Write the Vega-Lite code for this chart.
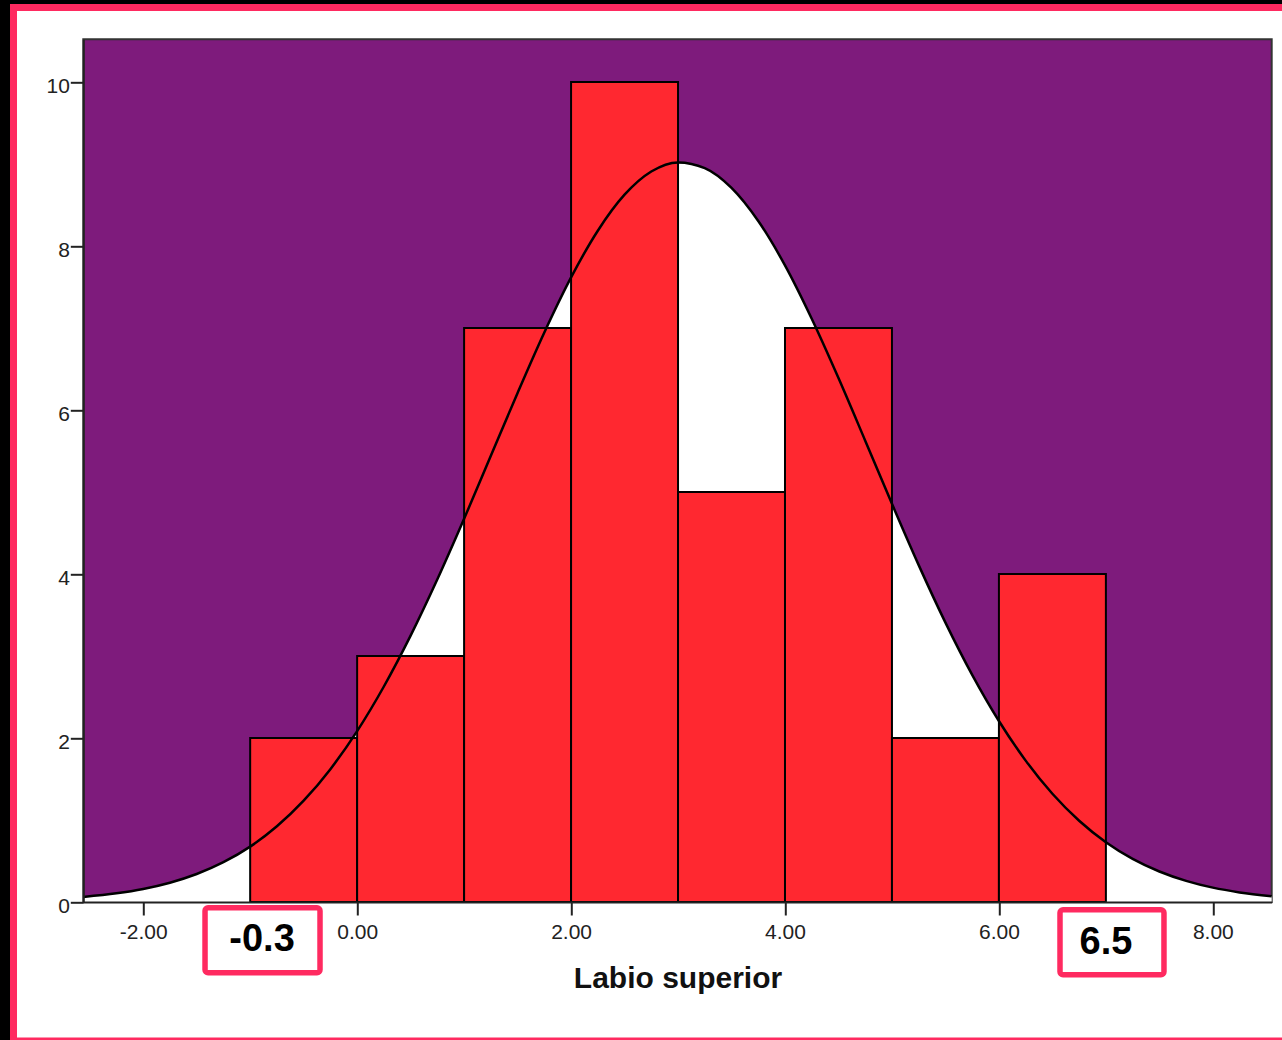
{
  "$schema": "https://vega.github.io/schema/vega-lite/v6.json",
  "width": 1188.4,
  "height": 862.7,
  "autosize": {"type": "none"},
  "padding": {"left": 83.3, "top": 39.3, "right": 10, "bottom": 138},
  "background": "#000000",
  "config": {"view": {"stroke": null}},
  "datasets": {
    "bars": [
      {"bin_start": -1, "bin_end": 0, "count": 2},
      {"bin_start": 0, "bin_end": 1, "count": 3},
      {"bin_start": 1, "bin_end": 2, "count": 7},
      {"bin_start": 2, "bin_end": 3, "count": 10},
      {"bin_start": 3, "bin_end": 4, "count": 5},
      {"bin_start": 4, "bin_end": 5, "count": 7},
      {"bin_start": 5, "bin_end": 6, "count": 2},
      {"bin_start": 6, "bin_end": 7, "count": 4}
    ],
    "curve": [
      {"x": -2.56, "y": 0.062}, {"x": -2.25, "y": 0.106}, {"x": -2.0, "y": 0.159},
      {"x": -1.75, "y": 0.235}, {"x": -1.5, "y": 0.341}, {"x": -1.25, "y": 0.485},
      {"x": -1.0, "y": 0.675}, {"x": -0.75, "y": 0.923}, {"x": -0.5, "y": 1.235},
      {"x": -0.25, "y": 1.62}, {"x": 0.0, "y": 2.084}, {"x": 0.25, "y": 2.628},
      {"x": 0.5, "y": 3.248}, {"x": 0.75, "y": 3.935}, {"x": 1.0, "y": 4.673},
      {"x": 1.25, "y": 5.441}, {"x": 1.5, "y": 6.208}, {"x": 1.75, "y": 6.945},
      {"x": 2.0, "y": 7.616}, {"x": 2.25, "y": 8.186}, {"x": 2.5, "y": 8.625},
      {"x": 2.75, "y": 8.908}, {"x": 3.0, "y": 9.019}, {"x": 3.25, "y": 8.95},
      {"x": 3.5, "y": 8.708}, {"x": 3.75, "y": 8.304}, {"x": 4.0, "y": 7.763},
      {"x": 4.25, "y": 7.112}, {"x": 4.5, "y": 6.389}, {"x": 4.75, "y": 5.626},
      {"x": 5.0, "y": 4.855}, {"x": 5.25, "y": 4.108}, {"x": 5.5, "y": 3.407},
      {"x": 5.75, "y": 2.77}, {"x": 6.0, "y": 2.207}, {"x": 6.25, "y": 1.724},
      {"x": 6.5, "y": 1.32}, {"x": 6.75, "y": 0.991}, {"x": 7.0, "y": 0.729},
      {"x": 7.25, "y": 0.526}, {"x": 7.5, "y": 0.372}, {"x": 7.75, "y": 0.258},
      {"x": 8.0, "y": 0.175}, {"x": 8.25, "y": 0.117}, {"x": 8.55, "y": 0.07}
    ],
    "notes": [
      {"label": "-0.3", "x": -0.889, "y": -0.46, "x1": -1.422, "x2": -0.347, "y1": -0.07, "y2": -0.862},
      {"label": "6.5", "x": 7.001, "y": -0.497, "x1": 6.571, "x2": 7.543, "y1": -0.094, "y2": -0.887}
    ]
  },
  "layer": [
    {
      "data": {"values": [{}]},
      "mark": {"type": "rect", "fill": "#ffffff", "stroke": "#ff2a60", "strokeWidth": 7, "clip": false},
      "encoding": {
        "x": {
          "datum": -3.2125, "type": "quantitative",
          "scale": {"domain": [-2.56, 8.55], "nice": false, "zero": false},
          "axis": {
            "zindex": 1,
            "values": [-2, 0, 2, 4, 6, 8],
            "labelExpr": "(datum.value < 0 ? '-' : '') + format(abs(datum.value), '.2f')",
            "grid": false,
            "tickSize": 13, "tickWidth": 2, "tickColor": "#222222",
            "domainColor": "#222222", "domainWidth": 2,
            "labelPadding": 7, "labelFont": "Liberation Sans", "labelFontSize": 21, "labelColor": "#222222",
            "title": "Labio superior", "titleFont": "Liberation Sans", "titleFontSize": 30,
            "titleFontWeight": "bold", "titleColor": "#111111", "titlePadding": 21
          }
        },
        "x2": {"datum": 8.8},
        "y": {
          "datum": 10.908, "type": "quantitative",
          "scale": {"domain": [0, 10.52], "nice": false, "zero": false},
          "axis": {
            "zindex": 1,
            "values": [0, 2, 4, 6, 8, 10], "format": "d", "grid": false, "title": null,
            "tickSize": 13, "tickWidth": 2, "tickColor": "#222222",
            "domainColor": "#222222", "domainWidth": 2,
            "labelPadding": 1, "labelOffset": 5, "labelFont": "Liberation Sans", "labelFontSize": 21, "labelColor": "#222222"
          }
        },
        "y2": {"datum": -1.694}
      }
    },
    {
      "data": {"values": [{}]},
      "mark": {"type": "rect", "fill": "#7e1b7c", "stroke": "#333333", "strokeWidth": 2},
      "encoding": {
        "x": {"datum": -2.56, "type": "quantitative"},
        "x2": {"datum": 8.55},
        "y": {"datum": 0, "type": "quantitative"},
        "y2": {"datum": 10.52}
      }
    },
    {
      "data": {"name": "curve"},
      "mark": {"type": "area", "fill": "#ffffff", "interpolate": "monotone"},
      "encoding": {
        "x": {"field": "x", "type": "quantitative"},
        "y": {"field": "y", "type": "quantitative"}
      }
    },
    {
      "data": {"name": "bars"},
      "mark": {"type": "rect", "fill": "#ff2830", "stroke": "#000000", "strokeWidth": 2},
      "encoding": {
        "x": {"field": "bin_start", "type": "quantitative"},
        "x2": {"field": "bin_end"},
        "y": {"field": "count", "type": "quantitative"}
      }
    },
    {
      "data": {"name": "curve"},
      "mark": {"type": "line", "color": "#000000", "strokeWidth": 2.5, "interpolate": "monotone"},
      "encoding": {
        "x": {"field": "x", "type": "quantitative"},
        "y": {"field": "y", "type": "quantitative"}
      }
    },
    {
      "data": {"name": "notes"},
      "mark": {"type": "rect", "fill": "#ffffff", "stroke": "#ff2a60", "strokeWidth": 5.5, "cornerRadius": 3, "clip": false},
      "encoding": {
        "x": {"field": "x1", "type": "quantitative"},
        "x2": {"field": "x2"},
        "y": {"field": "y1", "type": "quantitative"},
        "y2": {"field": "y2"}
      }
    },
    {
      "data": {"name": "notes"},
      "mark": {"type": "text", "font": "Liberation Sans", "fontSize": 38, "fontWeight": "bold", "color": "#000000", "align": "center", "baseline": "middle", "clip": false},
      "encoding": {
        "x": {"field": "x", "type": "quantitative"},
        "y": {"field": "y", "type": "quantitative"},
        "text": {"field": "label"}
      }
    }
  ]
}
